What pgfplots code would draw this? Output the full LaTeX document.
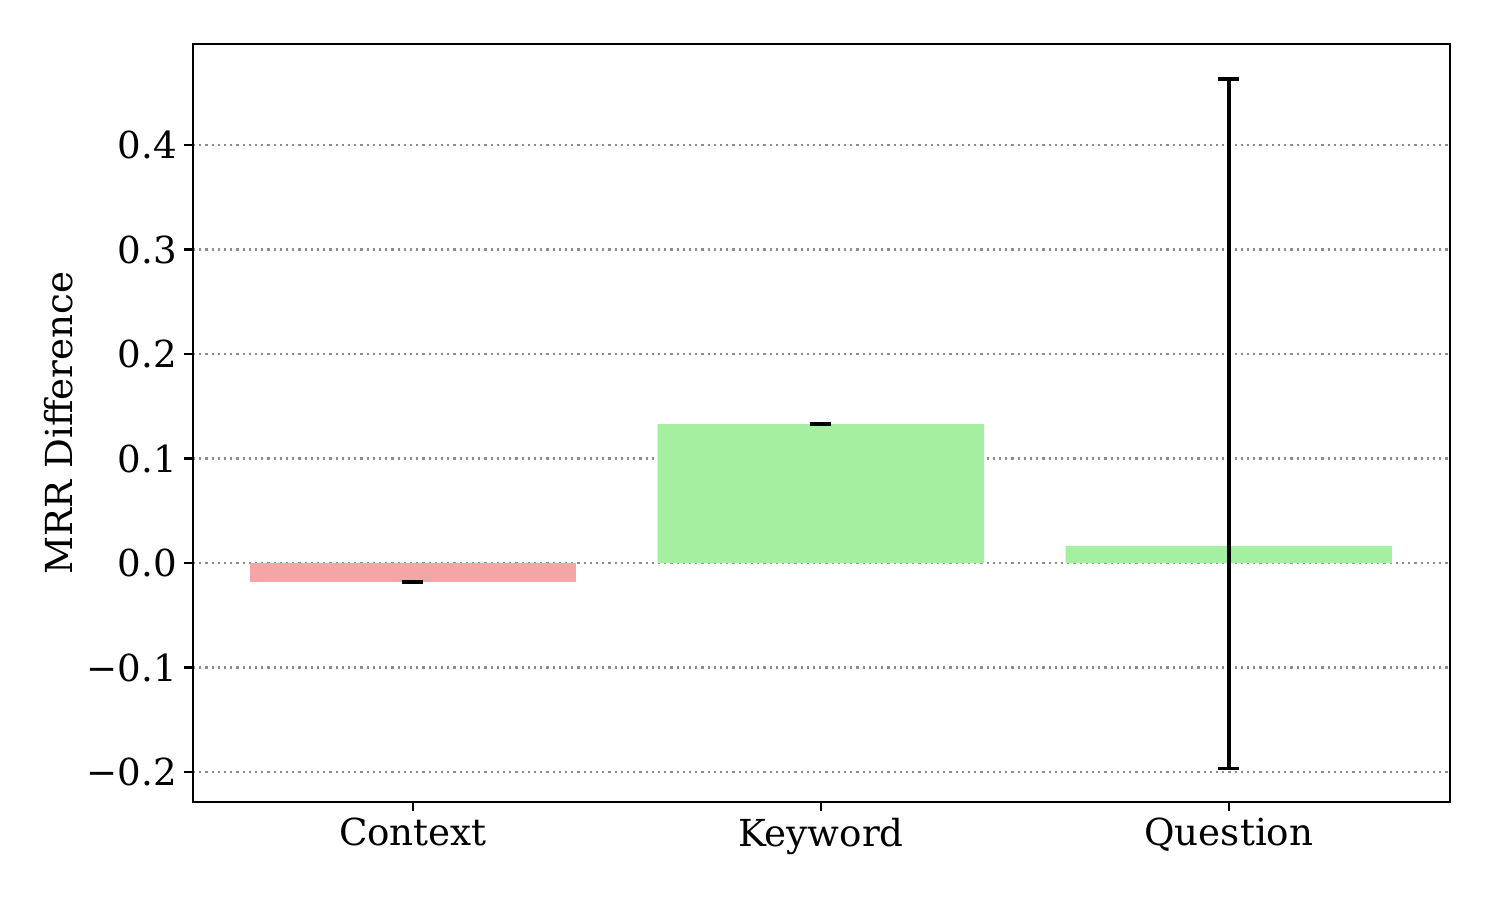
\documentclass[border=0pt]{standalone}
\usepackage{fontspec}
\setmainfont{DejaVu Serif}
\usepackage{pgfplots}
\pgfplotsset{compat=1.18}
\definecolor{barred}{HTML}{F4A5A5}
\definecolor{bargreen}{HTML}{A5EFA0}
\begin{document}
\begin{tikzpicture}
\begin{axis}[
  scale only axis,
  width=628.5pt, height=379pt,
  xmin=-0.539, xmax=2.542,
  ymin=-0.2287, ymax=0.4967,
  xtick={0,1,2},
  xticklabels={Context,Keyword,Question},
  ytick={-0.2,-0.1,0,0.1,0.2,0.3,0.4},
  yticklabels={−0.2,−0.1,0.0,0.1,0.2,0.3,0.4},
  tick align=outside,
  xtick pos=bottom, ytick pos=left,
  major tick length=4.5pt,
  every tick/.style={black, line width=1.1pt},
  axis line style={line width=1.1pt},
  ymajorgrids,
  major grid style={black!45, line width=1.1pt, dash pattern=on 1.1pt off 2pt},
  tick label style={font=\fontsize{18.6}{22}\selectfont},
  ylabel={MRR Difference},
  ylabel style={font=\fontsize{18.6}{22}\selectfont},
  ylabel shift=0pt,
  clip=false,
  error bars/error bar style={black, solid, line width=1.9pt},
  error bars/error mark=|,
  error bars/error mark options={black, solid, line width=1.9pt, mark size=5.25pt},
]
\addplot[ybar, bar width=0.8, bar shift=0pt, fill=barred, draw=none,
  error bars/.cd, y dir=both, y explicit]
  coordinates {(0,-0.018) +- (0,0.0002)};
\addplot[ybar, bar width=0.8, bar shift=0pt, fill=bargreen, draw=none,
  error bars/.cd, y dir=both, y explicit]
  coordinates {(1,0.133) +- (0,0.0002) (2,0.0163) += (0,0.447) -= (0,0.213)};
\end{axis}
\path (current axis.south west) -- ++(-96.5pt,-47.5pt);
\path (current axis.north east) -- ++(22.5pt,22pt);
\end{tikzpicture}
\end{document}
